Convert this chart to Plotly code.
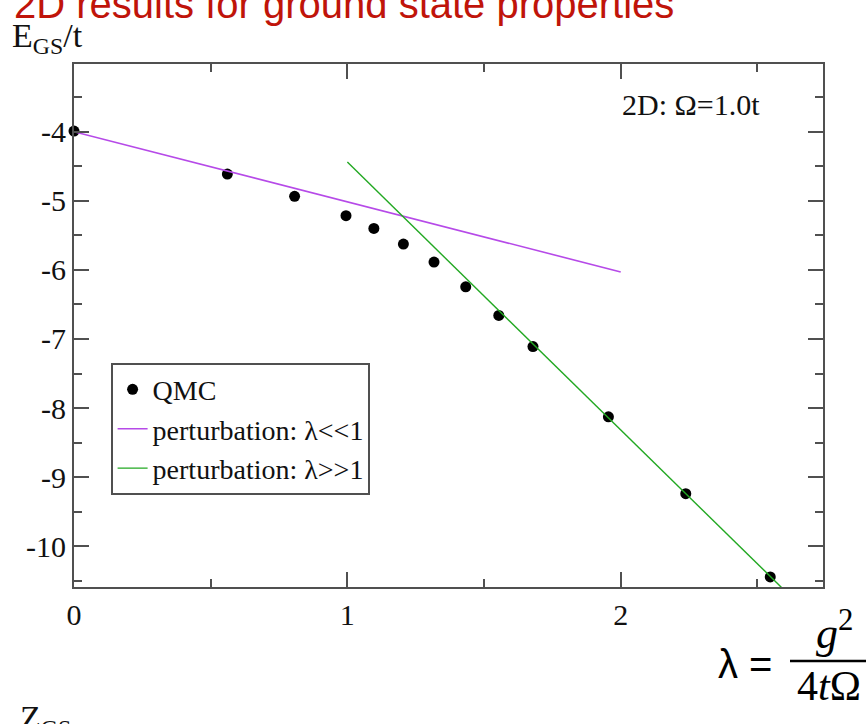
import plotly.graph_objects as go

# QMC ground-state energies, E_GS/t versus lambda
qmc_lambda = [0.0, 0.561, 0.807, 0.995, 1.097, 1.205, 1.317, 1.433, 1.554, 1.679, 1.955, 2.238, 2.547]
qmc_energy = [-3.99, -4.613, -4.936, -5.216, -5.40, -5.626, -5.887, -6.245, -6.66, -7.11, -8.127, -9.24, -10.445]

# weak-coupling perturbation result (straight line)
weak_lambda = [0.0, 2.0]
weak_energy = [-4.0, -6.03]

# strong-coupling perturbation result (straight line)
strong_lambda = [1.0, 2.7]
strong_energy = [-4.44, -11.03]

x_tickvals = [0, 1, 2]
x_ticktext = ["0", "1", "2"]
y_tickvals = [-10, -9, -8, -7, -6, -5, -4]
y_ticktext = ["-10", "-9", "-8", "-7", "-6", "-5", "-4"]

W, H = 867, 724
L, R, T, B = 74, 823, 64, 587
SERIF = "Liberation Serif, Times New Roman, serif"


def px(x):
    return (x - L) / (R - L)


def py(y):
    return (B - y) / (B - T)


fig = go.Figure()
fig.add_trace(go.Scatter(
    x=qmc_lambda, y=qmc_energy, mode="markers", name="QMC",
    marker=dict(color="black", size=11, symbol="circle"),
    cliponaxis=False,
))
fig.add_trace(go.Scatter(
    x=weak_lambda, y=weak_energy, mode="lines", name="perturbation: λ<<1",
    line=dict(color="#b64ae8", width=1.6),
))
fig.add_trace(go.Scatter(
    x=strong_lambda, y=strong_energy, mode="lines", name="perturbation: λ>>1",
    line=dict(color="#22a822", width=1.4),
))

axis_common = dict(
    showline=True, linecolor="#505050", linewidth=1.8, mirror="ticks",
    ticks="inside", ticklen=15, tickwidth=1.5, tickcolor="#505050",
    showgrid=False, zeroline=False,
    tickfont=dict(family=SERIF, size=30, color="#111111"),
    minor=dict(ticks="inside", ticklen=8, tickwidth=1.5, tickcolor="#505050", dtick=0.5, showgrid=False),
)

fig.update_xaxes(range=[0, 2.74], tickmode="array", tickvals=x_tickvals, ticktext=x_ticktext, **axis_common)
fig.update_yaxes(range=[-10.59, -3.02], tickmode="array", tickvals=y_tickvals, ticktext=y_ticktext, **axis_common)

annotations = [
    # page heading
    dict(text="2D results for ground state properties", x=px(12), y=py(4), xanchor="left", yanchor="middle",
         font=dict(family="Liberation Sans, Arial, sans-serif", size=40, color="#c0140a")),
    # y-axis title
    dict(text="E<sub>GS</sub>/t", x=px(10), y=py(38), xanchor="left", yanchor="middle",
         font=dict(family=SERIF, size=34, color="#111111")),
    # parameter label inside the plot
    dict(text="2D: Ω=1.0t", x=px(620), y=py(104), xanchor="left", yanchor="middle",
         font=dict(family=SERIF, size=30, color="#111111")),
    # definition of lambda
    dict(text="λ =", x=px(716), y=py(664), xanchor="left", yanchor="middle",
         font=dict(family="Liberation Sans, Arial, sans-serif", size=40, color="black")),
    dict(text="<i>g</i><sup>2</sup>", x=px(834), y=py(630), xanchor="center", yanchor="middle",
         font=dict(family=SERIF, size=44, color="black")),
    dict(text="4<i>t</i>Ω", x=px(829), y=py(686), xanchor="center", yanchor="middle",
         font=dict(family=SERIF, size=42, color="black")),
    # next panel heading, partly below the page edge
    dict(text="Z<sub>GS</sub>", x=px(18), y=py(720), xanchor="left", yanchor="middle",
         font=dict(family=SERIF, size=34, color="#111111")),
]
for a in annotations:
    a.update(xref="paper", yref="paper", showarrow=False)

fig.update_layout(
    width=W, height=H,
    margin=dict(l=L, r=W - R, t=T, b=H - B),
    paper_bgcolor="white", plot_bgcolor="white",
    annotations=annotations,
    shapes=[dict(type="line", xref="paper", yref="paper", x0=px(790), x1=px(866), y0=py(661), y1=py(661),
                 line=dict(color="black", width=2.5))],
    showlegend=True,
    legend=dict(
        x=px(111), y=py(363), xanchor="left", yanchor="top",
        bordercolor="#505050", borderwidth=1.6, bgcolor="white",
        font=dict(family=SERIF, size=28, color="#111111"),
        tracegroupgap=0, itemwidth=30,
    ),
)

fig.write_html("out.html")
